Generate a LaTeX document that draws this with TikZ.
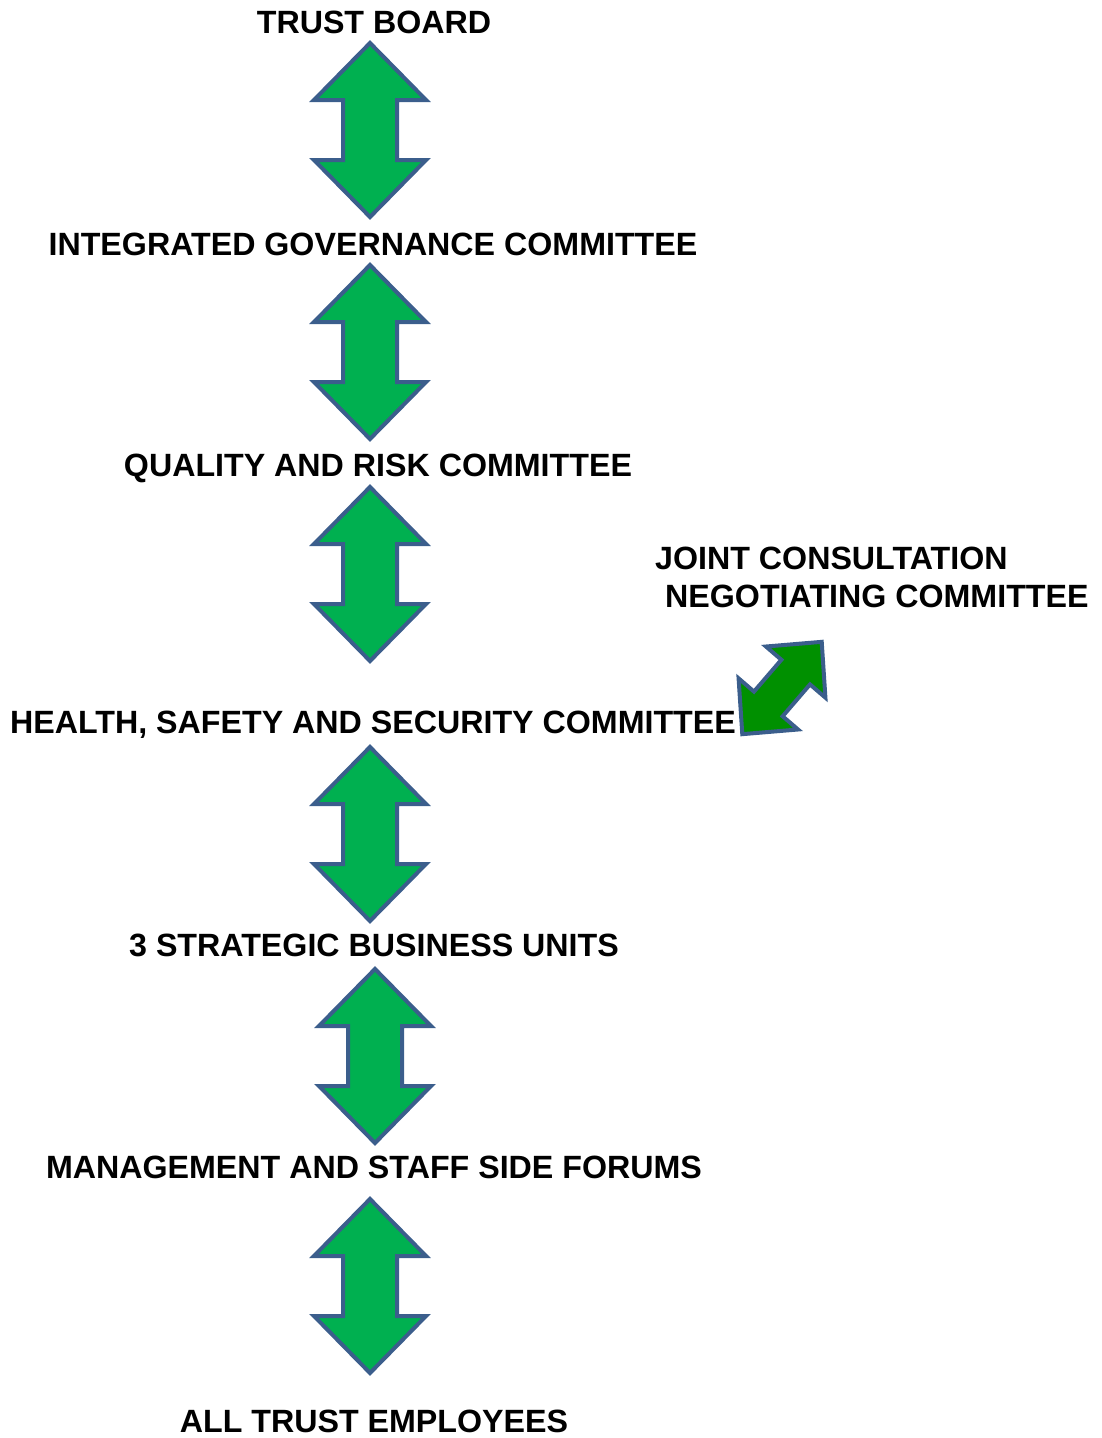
\documentclass[tikz,border=0pt]{standalone}
\usepackage{fontspec}
\setmainfont{Liberation Sans}

\definecolor{arrowfill}{HTML}{00B050}
\definecolor{arrowedge}{HTML}{3B5E8C}
\definecolor{sidefill}{HTML}{009000}

\tikzset{
  tierlabel/.style={font=\bfseries\fontsize{32.2}{38}\selectfont, anchor=base, inner sep=0pt},
  pics/dblarrow/.style={code={
    \draw[arrowedge, line width=4pt, line join=miter, fill=#1]
      (0,-87) -- (56,-30) -- (27,-30) -- (27,30) -- (56,30) -- (0,87)
      -- (-56,30) -- (-27,30) -- (-27,-30) -- (-56,-30) -- cycle;
  }},
}

\begin{document}
\begin{tikzpicture}[x=1pt, y=-1pt]
    \useasboundingbox (0,0) rectangle (1102,1438);

    % Beschriftungen
    \node[tierlabel] (board) at (374, 33) {TRUST BOARD};
    \node[tierlabel] (igc) at (373, 255) {INTEGRATED GOVERNANCE COMMITTEE};
    \node[tierlabel] (qrc) at (378, 476) {QUALITY AND RISK COMMITTEE};
    \node[tierlabel, anchor=base west, align=left] (jcnc) at (655, 607)
      {JOINT CONSULTATION\\\hspace*{10pt}NEGOTIATING COMMITTEE};
    \node[tierlabel] (hss) at (373, 733) {HEALTH, SAFETY AND SECURITY COMMITTEE};
    \node[tierlabel] (sbu) at (374, 956) {3 STRATEGIC BUSINESS UNITS};
    \node[tierlabel] (forums) at (374, 1178) {MANAGEMENT AND STAFF SIDE FORUMS};
    \node[tierlabel] (staff) at (374, 1432) {ALL TRUST EMPLOYEES};

    % Pfeile
    \pic (a1) at (370, 130) {dblarrow=arrowfill};
    \pic (a2) at (370, 352) {dblarrow=arrowfill};
    \pic (a3) at (370, 574) {dblarrow=arrowfill};
    \pic (a4) at (370, 834) {dblarrow=arrowfill};
    \pic (a5) at (375, 1056) {dblarrow=arrowfill};
    \pic (a6) at (370, 1286) {dblarrow=arrowfill};
    \pic[rotate=-40.7, scale=0.7] (a7) at (782, 688) {dblarrow=sidefill};
\end{tikzpicture}
\end{document}
